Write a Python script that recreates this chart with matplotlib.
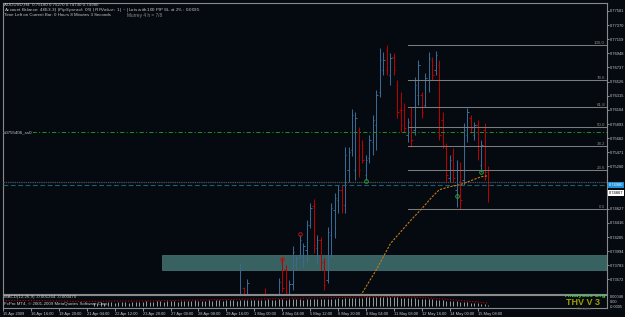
import matplotlib
matplotlib.use("Agg")
import matplotlib.pyplot as plt
from matplotlib.patches import Rectangle

plt.rcParams["font.family"] = ["Liberation Sans", "DejaVu Sans"]
plt.rcParams["lines.scale_dashes"] = False

W, H = 625, 317
BG = "#040a10"
TXT = "#c8c8c8"
UP = "#3a6890"
DOWN = "#b80000"
FS = 3.2      # header / in-chart text
FS_AX = 2.9   # axis labels

# H4 bars (only the ones that reach into the visible price range)
first_bar = 68
opens = [0.73347, 0.73451, 0.73272, 0.73093, 0.73302, 0.73197, 0.73048, 0.73347, 0.73197, 0.73287,
         0.73123, 0.73317, 0.73839, 0.73719, 0.73347, 0.73511, 0.73794, 0.73943, 0.73839, 0.74018,
         0.74390, 0.74674, 0.74047, 0.74167, 0.73839, 0.73570, 0.74241, 0.74614, 0.74763, 0.74912,
         0.74688, 0.75210, 0.75509, 0.75210, 0.75807, 0.75583, 0.75136, 0.75389, 0.75628, 0.75881,
         0.76373, 0.76701, 0.77000, 0.76627, 0.76895, 0.76478, 0.76105, 0.76105, 0.75732, 0.76030,
         0.75807, 0.76329, 0.76329, 0.76179, 0.76552, 0.76850, 0.76701, 0.76776, 0.75956, 0.75538,
         0.75091, 0.75434, 0.74912, 0.75210, 0.75061, 0.75732, 0.75986, 0.75732, 0.75881, 0.75285,
         0.75807, 0.75181]
highs = [0.73824, 0.73466, 0.73585, 0.73332, 0.73347, 0.73272, 0.73362, 0.73451, 0.73332, 0.73317,
         0.73347, 0.73600, 0.73898, 0.73794, 0.73570, 0.74077, 0.73943, 0.74241, 0.74122, 0.74465,
         0.74718, 0.74778, 0.74241, 0.74211, 0.73898, 0.74360, 0.74718, 0.74867, 0.74987, 0.74987,
         0.75553, 0.75553, 0.76120, 0.76075, 0.75851, 0.75658, 0.75434, 0.75732, 0.76030, 0.76403,
         0.77029, 0.76970, 0.77074, 0.76955, 0.76955, 0.76552, 0.76373, 0.76209, 0.75986, 0.76150,
         0.76597, 0.76850, 0.76373, 0.76657, 0.76970, 0.76895, 0.76985, 0.76850, 0.76075, 0.75613,
         0.75434, 0.75538, 0.75359, 0.75330, 0.75911, 0.76135, 0.76030, 0.75926, 0.75956, 0.75658,
         0.75911, 0.75270]
lows = [0.73272, 0.73197, 0.73227, 0.73048, 0.73093, 0.73004, 0.73004, 0.73197, 0.73123, 0.73063,
        0.73048, 0.73272, 0.73391, 0.73302, 0.73272, 0.73421, 0.73719, 0.73898, 0.73764, 0.73839,
        0.74346, 0.73973, 0.73824, 0.73719, 0.73421, 0.73526, 0.73913, 0.74196, 0.74569, 0.74569,
        0.74569, 0.75031, 0.75419, 0.75061, 0.75106, 0.75315, 0.75061, 0.75315, 0.75434, 0.75509,
        0.76299, 0.76627, 0.76627, 0.76478, 0.76627, 0.75986, 0.75777, 0.75777, 0.75628, 0.75553,
        0.75732, 0.76179, 0.75986, 0.76150, 0.76373, 0.76552, 0.76627, 0.75658, 0.75538, 0.75031,
        0.75031, 0.75031, 0.74659, 0.74629, 0.74987, 0.75628, 0.75762, 0.75658, 0.75359, 0.75181,
        0.75061, 0.74733]
closes = [0.73719, 0.73242, 0.73526, 0.73302, 0.73153, 0.73048, 0.73317, 0.73242, 0.73302, 0.73123,
          0.73317, 0.73540, 0.73451, 0.73391, 0.73511, 0.73988, 0.73898, 0.74167, 0.74077, 0.74390,
          0.74644, 0.74092, 0.74167, 0.73839, 0.73496, 0.74286, 0.74644, 0.74793, 0.74912, 0.74688,
          0.75434, 0.75479, 0.76030, 0.75986, 0.75210, 0.75359, 0.75359, 0.75658, 0.75956, 0.76329,
          0.76850, 0.76850, 0.76701, 0.76880, 0.76701, 0.76075, 0.75881, 0.75837, 0.75926, 0.75658,
          0.76478, 0.76776, 0.76075, 0.76582, 0.76880, 0.76627, 0.76925, 0.75732, 0.75583, 0.75136,
          0.75359, 0.75091, 0.75210, 0.74763, 0.75807, 0.76075, 0.75837, 0.75881, 0.75509, 0.75583,
          0.75181, 0.74980]

date_labels = ["15 Apr 2009", "16 Apr 16:00", "19 Apr 20:00", "21 Apr 04:00", "22 Apr 12:00",
               "23 Apr 20:00", "27 Apr 00:00", "28 Apr 08:00", "29 Apr 16:00", "1 May 00:00",
               "4 May 04:00", "5 May 12:00", "6 May 20:00", "8 May 04:00", "11 May 08:00",
               "12 May 16:00", "14 May 00:00", "15 May 08:00"]
date_bars = [0, 8, 16, 24, 32, 40, 48, 56, 64, 72, 80, 88, 96, 104, 112, 120, 128, 136]

price_ticks = [0.77581, 0.77370, 0.77159, 0.76948, 0.76737, 0.76526, 0.76315, 0.76104, 0.75893,
               0.75682, 0.75471, 0.75260, 0.74627, 0.74416, 0.74205, 0.73994, 0.73783, 0.73572]

fib_levels = [0.0, 23.6, 38.2, 50.0, 61.8, 78.6, 100.0]
fib_low, fib_high = 0.74629, 0.77074
fib_start = 116

bid, ask = 0.74980, 0.75030
hline_green = 0.75772
marker_price = 0.74867
zone_start, zone_low, zone_high = 45.6, 0.73710, 0.73943

orange_bars = [101, 103, 107, 109, 111, 114, 117, 120, 123, 125, 128, 131, 134, 137, 139]
orange_vals = [0.73250, 0.73376, 0.73719, 0.73913, 0.74107, 0.74286, 0.74465, 0.74629,
               0.74808, 0.74912, 0.74957, 0.74987, 0.75046, 0.75106, 0.75121]

green_bars = [104, 130, 137]
green_vals = [0.75046, 0.74823, 0.75181]
red_bars = [80, 85]
red_vals = [0.73883, 0.74256]

# MACD window (values in 1e-4)
hist_first = 26
macd_hist = [3, 3, 4, 3, 4, 4, 3, 4, 4, 4, 3, 4, 4, 4, 4, 5, 4,
             4, 5, 5, 4, 5, 5, 5, 4, 5, 5, 5, 5, 6, 5,
             5, 5, 6, 5, 6, 6, 5, 6, 6, 6, 5, 6, 6, 6, 6, 6, 6,
             6, 6, 7, 6, 6, 7, 7, 6, 7, 7, 7, 7, 6, 7, 7, 7, 7, 7, 7, 7,
             7, 7, 8, 7, 8, 8, 8, 8, 8, 8, 8.5, 8.5, 9, 9, 9,
             9, 9, 8.5, 8.5, 8.5, 8, 8, 8, 7.5, 7.5, 7, 7,
             7, 6.5, 6.5, 6, 6, 5.5, 5, 5, 4.5, 4.5, 4,
             3.5, 3.5, 3, 2.5, 2.5, 2, 1.5, 1]
sig_bars = [0, 8, 16, 24, 32, 40, 48, 56, 64, 72, 80, 88, 96, 104, 112, 120, 128, 136, 139]
sig_vals = [5, 5, 4.5, 4, 4.5, 4.5, 5, 5.5, 6, 6.5, 7, 7.5, 8, 8.5, 9, 8, 6, 3.5, 2.5]

bar_px = 3.49
xmax = 604 / bar_px


def fpos(x, y):
    return x / W, 1 - y / H


fig = plt.figure(figsize=(W / 100, H / 100), dpi=100, facecolor=BG)
ax = fig.add_axes([3 / W, (H - 294) / H, 604 / W, 291 / H], facecolor=BG)
ax2 = fig.add_axes([3 / W, (H - 308) / H, 604 / W, 13 / H], facecolor=BG)

for a in (ax, ax2):
    a.set_xlim(0, xmax)
    for s in a.spines.values():
        s.set_color("#8a8a8a")
        s.set_linewidth(0.8)
ax.set_ylim(0.73355, 0.77700)

# price bars
idx = list(range(first_bar, first_bar + len(opens)))
cols = [UP if c >= o else DOWN for o, c in zip(opens, closes)]
ax.add_patch(Rectangle((zone_start, zone_low), xmax - zone_start, zone_high - zone_low,
                       fc="#386262", ec="#4d7777", lw=0.5, zorder=0.5))
ax.vlines(idx, lows, highs, colors=cols, lw=0.75, zorder=2)
ax.hlines(opens, [i - 0.4 for i in idx], idx, colors=cols, lw=0.75, zorder=2)
ax.hlines(closes, idx, [i + 0.4 for i in idx], colors=cols, lw=0.75, zorder=2)

# fibonacci
for lv in fib_levels:
    p = fib_low + (fib_high - fib_low) * lv / 100
    ax.plot([fib_start, xmax], [p, p], color="#7c7c7c", lw=0.75, zorder=3)
    ax.text(xmax - 0.6, p, f"{lv:.1f}", color="#8a8a8a", fontsize=FS, ha="right", va="bottom")

ax.axhline(hline_green, color="#1e8c1e", lw=0.75, dashes=(3, 1.6, 0.8, 1.6), zorder=3)
ax.text(0.4, hline_green, "#0755406_ss0", color=TXT, fontsize=FS, ha="left", va="center",
        zorder=4, bbox=dict(boxstyle="square,pad=0.05", fc=BG, ec="none"))
ax.axhline(ask, color="#4e4e4e", lw=0.9, ls=(0, (1, 0.6)), zorder=3)
ax.axhline(bid, color="#1c5e7c", lw=0.8, dashes=(3.5, 1.8), zorder=3)

ax.plot(orange_bars, orange_vals, color="#c87a1a", lw=0.8, dashes=(1.6, 1.0), zorder=4)
ax.plot(green_bars, green_vals, ls="none", marker="o", ms=2.6, mfc="none", mec="#28a028",
        mew=0.7, zorder=5)
ax.plot(red_bars, red_vals, ls="none", marker="o", ms=2.6, mfc="none", mec="#c01010",
        mew=0.7, zorder=5)

# right price scale
ax.yaxis.tick_right()
ax.set_yticks(price_ticks)
ax.set_yticklabels([f"{t:.5f}" for t in price_ticks])
ax.tick_params(axis="y", colors=TXT, labelsize=FS_AX, length=1.5, width=0.5, pad=0.6)
ax.set_xticks([])
yt = ax.get_yaxis_transform()
ax.text(1.003, bid, f"{bid:.5f}", transform=yt, ha="left", va="center", fontsize=FS_AX,
        color="white", clip_on=False,
        bbox=dict(boxstyle="square,pad=0.2", fc="#1f90d8", ec="none"))
ax.text(1.003, marker_price, f"{marker_price:.5f}", transform=yt, ha="left", va="center",
        fontsize=FS_AX, color="black", clip_on=False,
        bbox=dict(boxstyle="square,pad=0.2", fc="white", ec="none"))

# header texts
fig.text(*fpos(4, 4.5), "AUDUSD,H4  0.75180 0.75270 0.74730 0.74980", color=TXT,
         fontsize=FS, va="center")
fig.text(*fpos(4, 10), "Account Balance: $4653.3 | ~ | Pip Spread: 05 | ~ | PIP Value: $1 | ~ | "
         "Lots with 100 PIP SL at 2% : 0.0095", color=TXT, fontsize=FS, va="center")
fig.text(*fpos(4, 15.5), "Time Left on Current Bar: 0 Hours 8 Minutes 3 Seconds", color=TXT,
         fontsize=FS, va="center")
fig.text(*fpos(127, 15.5), "Murrey 4 h = 7/8", color="#8c8c8c", fontsize=3.4, va="center")

# MACD window
ax2.set_ylim(-0.00025, 0.00105)
hist_idx = list(range(hist_first, hist_first + len(macd_hist)))
ax2.vlines(hist_idx, 0, [v * 1e-4 for v in macd_hist], color="#b4b4b4", lw=0.6)
ax2.plot(sig_bars, [v * 1e-4 for v in sig_vals], color="#c80000", lw=0.8, dashes=(0.8, 1.2))
ax2.set_yticks([])
ax2.set_xticks(date_bars)
ax2.set_xticklabels(date_labels)
for lab in ax2.get_xticklabels():
    lab.set_ha("left")
ax2.tick_params(axis="x", colors=TXT, labelsize=FS_AX, length=2, width=0.5, pad=1)

ax2.text(0.002, 0.82, "MACD(12,26,9) -0.001264 -0.000470", transform=ax2.transAxes,
         color=TXT, fontsize=FS, va="center")
ax2.text(0.002, 0.3, "FxPro MT4, \u00a9 2001-2009 MetaQuotes Software Corp.",
         transform=ax2.transAxes, color=TXT, fontsize=FS, va="center")
ax2.text(0.997, 0.97, "Analytics Org", transform=ax2.transAxes, ha="right", va="center",
         color="#3cdc3c", fontsize=4.5, fontweight="bold", clip_on=True)
ax2.text(0.988, 0.42, "THV V 3", transform=ax2.transAxes, ha="right", va="center",
         color="#a0a000", fontsize=6.5, fontweight="bold")
fig.text(*fpos(577, 308.5), "Custom", color="#4a4a4a", fontsize=FS, va="center")

fig.text(*fpos(609.5, 297), "0.00048", color=TXT, fontsize=2.8, va="center")
fig.text(*fpos(609.5, 302), "0.00", color=TXT, fontsize=2.8, va="center")
fig.text(*fpos(609.5, 306.5), "-0.0005", color=TXT, fontsize=2.8, va="center")

fig.savefig("out.png", dpi=100, facecolor=BG)
